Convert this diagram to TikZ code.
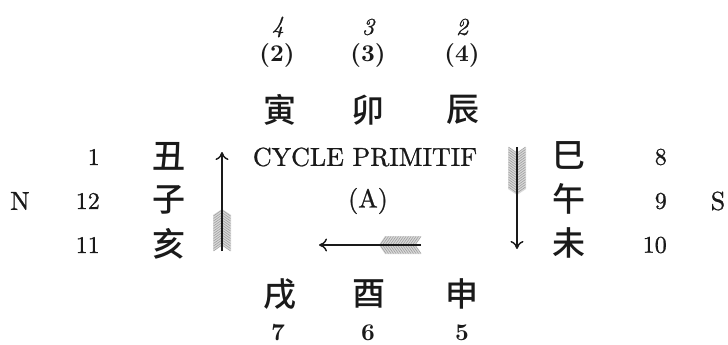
\documentclass[tikz,border=0pt]{standalone}
\usepackage{fontspec}
\setmainfont{lmroman10-regular}[Extension=.otf, BoldFont=lmroman10-bold, ItalicFont=lmroman10-italic,
  UprightFeatures={FakeBold=0.9}, ItalicFeatures={FakeBold=0.9}]
\newfontfamily\cjk{Noto Sans CJK SC Medium}
\usetikzlibrary{arrows.meta}
\definecolor{ink}{HTML}{1A1A1A}
\tikzset{
  kan/.style={font=\cjk\fontsize{33}{33}\selectfont, inner sep=0pt, text=ink},
  num/.style={font=\fontsize{24}{24}\selectfont, inner sep=0pt, text=ink},
  inum/.style={font=\itshape\fontsize{24}{24}\selectfont, inner sep=0pt, text=ink},
  bnum/.style={font=\bfseries\fontsize{24}{24}\selectfont, inner sep=0pt, text=ink},
  lab/.style={font=\fontsize{26}{26}\selectfont, inner sep=0pt, text=ink},
  shaft/.style={draw=ink, line width=1.4pt, -{Computer Modern Rightarrow[length=8pt,width=13pt]}},
  fgray/.style={fill=gray!30},
  barb/.style={draw=gray!75, line width=0.6pt},
}
\newcommand\fletch[3]{%
  \begin{scope}[shift={(#1)}, rotate=#2]
    \fill[fgray] (#3,0) -- (#3-6,9) -- (0,9) -- (6,0) -- (0,-9) -- (#3-6,-9) -- cycle;
    \foreach \t in {6,8.5,...,#3} {\draw[barb] (\t,0) -- (\t-6,8.5); \draw[barb] (\t,0) -- (\t-6,-8.5);}
  \end{scope}}
\begin{document}
\begin{tikzpicture}[x=1pt,y=-1pt]
\useasboundingbox[fill=white] (0,0) rectangle (728,345);
% top numbers
\node[inum] (t4) at (278,27) {4};
\node[inum] (t3) at (368,27) {3};
\node[inum] (t2) at (462,27) {2};
\node[bnum] (p2) at (277,55) {(2)};
\node[bnum] (p3) at (368,55) {(3)};
\node[bnum] (p4) at (462,55) {(4)};
% top kanji
\node[kan] (yin) at (280,110) {寅};
\node[kan] (mao) at (368,110) {卯};
\node[kan] (chen) at (463,110) {辰};
% left column
\node[num, anchor=east] (n1) at (100,157) {1};
\node[num, anchor=east] (n12) at (100,201) {12};
\node[num, anchor=east] (n11) at (100,245) {11};
\node[lab] (N) at (20,201) {N};
\node[kan] (chou) at (169,156) {丑};
\node[kan] (zi) at (169,200) {子};
\node[kan] (hai) at (169,244) {亥};
% right column
\node[kan] (si) at (569,155) {巳};
\node[kan] (wu) at (569,199) {午};
\node[kan] (wei) at (569,243) {未};
\node[num, anchor=east] (n8) at (667,157) {8};
\node[num, anchor=east] (n9) at (667,201) {9};
\node[num, anchor=east] (n10) at (667,245) {10};
\node[lab] (S) at (718,201) {S};
% centre
\node[lab] (cyc) at (365,157) {CYCLE PRIMITIF};
\node[lab] (A) at (368,201) {(A)};
% bottom
\node[kan] (xu) at (280,294) {戌};
\node[kan] (you) at (369,294) {酉};
\node[kan] (shen) at (462,294) {申};
\node[bnum] (b7) at (278,333) {7};
\node[bnum] (b6) at (368,333) {6};
\node[bnum] (b5) at (462,333) {5};
% arrows
\coordinate (ltail) at (222,251);
\coordinate (lhead) at (222,152);
\coordinate (rtail) at (517,147);
\coordinate (rhead) at (517,249);
\coordinate (htail) at (421,245);
\coordinate (hhead) at (319,245);
\fletch{ltail}{90}{42}
\fletch{rtail}{-90}{48}
\fletch{htail}{180}{42}
\draw[shaft] (ltail) -- (lhead);
\draw[shaft] (rtail) -- (rhead);
\draw[shaft] (htail) -- (hhead);
\end{tikzpicture}
\end{document}
